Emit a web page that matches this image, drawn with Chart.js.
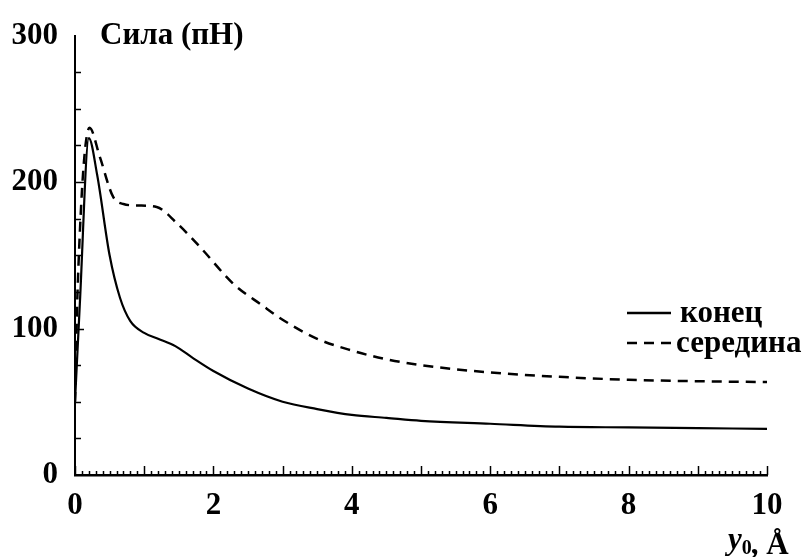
<!DOCTYPE html>
<html>
<head>
<meta charset="utf-8">
<script src="https://cdn.jsdelivr.net/npm/chart.js@4.4.1/dist/chart.umd.min.js"></script>
<style>
    html, body { margin: 0; padding: 0; background: #fff; }
    #wrap { width: 810px; height: 557px; }
</style>
</head>
<body>
<div id="wrap"><canvas id="chart"></canvas></div>
<script>
// конец (solid)
const endX = [0, 0.07, 0.2, 0.32, 0.5, 0.65, 0.8, 1.0, 1.2, 1.45, 1.7, 2.0, 2.5, 3.0, 3.5, 4.0, 4.5, 5.0, 6.0, 7.0, 8.0, 9.0, 10.0];
const endY = [50, 117, 230, 205, 150, 121, 105, 97, 93, 88, 80, 71, 59, 50, 45, 41, 39, 37, 35, 33, 32.5, 32, 31.5];
// середина (dashed)
const midX = [0, 0.04, 0.21, 0.36, 0.55, 0.7, 0.9, 1.18, 1.47, 1.8, 2.3, 2.7, 3.0, 3.5, 4.0, 4.5, 5.0, 6.0, 7.0, 8.0, 9.0, 10.0];
const midY = [50, 130, 237, 217, 190, 185, 184, 183, 172, 156, 130, 116, 106, 93, 85, 79, 75, 70, 67, 65, 64, 63.5];

const xTicks = [0, 2, 4, 6, 8, 10];
const yTicks = [0, 100, 200, 300];
const seriesNames = ['конец', 'середина'];
const titleText = 'Сила (пН)';

const FONT = '"Liberation Serif", "Times New Roman", serif';
const SIZE = 31;

const toPoints = (xs, ys) => xs.map((x, i) => ({ x, y: ys[i] }));

const decorations = {
    id: 'decorations',
    afterDraw(chart) {
        const ctx = chart.ctx;
        const area = chart.chartArea;
        const xs = chart.scales.x;
        const ys = chart.scales.y;
        ctx.save();
        ctx.strokeStyle = '#000';
        ctx.lineWidth = 1.5;

        // inward minor ticks on the x axis
        for (let i = 0; i <= 100; i++) {
            const px = Math.round(xs.getPixelForValue(i / 10)) + 0.5;
            const len = i % 10 === 0 ? 9 : 4;
            ctx.beginPath();
            ctx.moveTo(px, area.bottom);
            ctx.lineTo(px, area.bottom - len);
            ctx.stroke();
        }
        // inward ticks on the y axis
        for (let v = 25; v < 300; v += 25) {
            const py = Math.round(ys.getPixelForValue(v)) + 0.5;
            const len = v % 100 === 0 ? 9 : 6;
            ctx.beginPath();
            ctx.moveTo(area.left, py);
            ctx.lineTo(area.left + len, py);
            ctx.stroke();
        }

        ctx.fillStyle = '#000';
        ctx.textBaseline = 'alphabetic';
        ctx.textAlign = 'left';
        ctx.font = `bold ${SIZE}px ${FONT}`;
        ctx.fillText(titleText, area.left + 25, 44);

        // legend
        const sets = chart.data.datasets;
        const legendRows = [322, 352];
        sets.forEach((ds, i) => {
            const base = legendRows[i];
            ctx.beginPath();
            ctx.lineWidth = 2.5;
            ctx.setLineDash(ds.borderDash || []);
            ctx.moveTo(627, base - 9);
            ctx.lineTo(671, base - 9);
            ctx.stroke();
            ctx.setLineDash([]);
            ctx.font = `bold ${SIZE}px ${FONT}`;
            ctx.fillText(seriesNames[i], i === 0 ? 680 : 676, base);
        });

        // axis title y0, Å
        let x = 728;
        ctx.font = `italic bold ${SIZE}px ${FONT}`;
        ctx.fillText('y', x, 549);
        x += ctx.measureText('y').width;
        ctx.font = `bold 20px ${FONT}`;
        ctx.fillText('0', x, 554);
        x += ctx.measureText('0').width;
        ctx.font = `bold ${SIZE}px ${FONT}`;
        ctx.fillText(', Å', x - 1, 554);
        ctx.restore();
    }
};

new Chart(document.getElementById('chart'), {
    type: 'scatter',
    data: {
        datasets: [{
            label: seriesNames[0],
            data: toPoints(endX, endY),
            showLine: true,
            borderColor: '#000',
            borderWidth: 2.2,
            pointRadius: 0,
            cubicInterpolationMode: 'monotone'
        }, {
            label: seriesNames[1],
            data: toPoints(midX, midY),
            showLine: true,
            borderColor: '#000',
            borderWidth: 2.5,
            borderDash: [10, 7],
            pointRadius: 0,
            cubicInterpolationMode: 'monotone'
        }]
    },
    options: {
        responsive: true,
        maintainAspectRatio: false,
        animation: false,
        events: [],
        layout: {
            padding: { left: 0, right: 43, top: 24, bottom: 0 }
        },
        scales: {
            x: {
                type: 'linear',
                min: 0,
                max: 10,
                afterFit(scale) { scale.height = 82; },
                afterBuildTicks(scale) { scale.ticks = xTicks.map(value => ({ value })); },
                grid: { display: false, drawTicks: false },
                border: { display: true, color: '#000', width: 2.5 },
                ticks: {
                    padding: 12,
                    color: '#000',
                    maxRotation: 0,
                    font: { family: FONT, size: SIZE, weight: 'bold' }
                }
            },
            y: {
                min: 0,
                max: 300,
                afterFit(scale) { scale.width = 75; },
                afterBuildTicks(scale) { scale.ticks = yTicks.map(value => ({ value })); },
                grid: { display: false, drawTicks: false },
                border: { display: true, color: '#000', width: 2 },
                ticks: {
                    padding: 17,
                    color: '#000',
                    font: { family: FONT, size: SIZE, weight: 'bold' }
                }
            }
        },
        plugins: {
            legend: { display: false },
            tooltip: { enabled: false }
        }
    },
    plugins: [decorations]
});
</script>
</body>
</html>
